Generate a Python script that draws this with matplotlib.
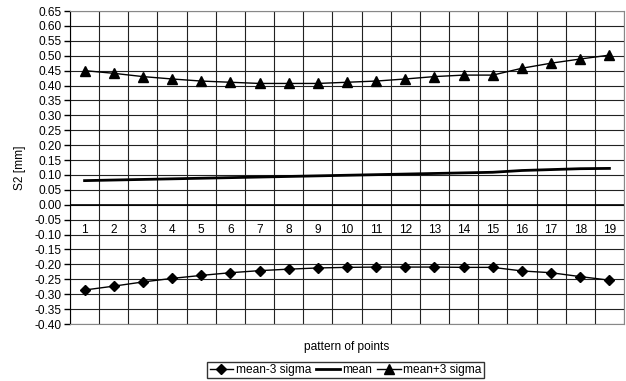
import matplotlib
matplotlib.use('Agg')
import matplotlib.pyplot as plt
import numpy as np

plt.rcParams['font.family'] = ['Liberation Sans', 'DejaVu Sans']

points = list(range(1, 20))
mean_minus = [-0.286, -0.273, -0.259, -0.247, -0.237, -0.228, -0.221, -0.216, -0.212, -0.210,
              -0.209, -0.209, -0.209, -0.210, -0.210, -0.222, -0.228, -0.241, -0.253]
mean_vals = [0.081, 0.083, 0.085, 0.087, 0.089, 0.091, 0.093, 0.095, 0.097, 0.099,
             0.101, 0.103, 0.105, 0.107, 0.109, 0.115, 0.118, 0.121, 0.122]
mean_plus = [0.450, 0.441, 0.430, 0.422, 0.415, 0.411, 0.407, 0.407, 0.407, 0.411,
             0.415, 0.422, 0.430, 0.435, 0.435, 0.458, 0.475, 0.489, 0.502]
yticks = np.round(np.arange(-0.40, 0.651, 0.05), 2)

fs = 8.6

fig = plt.figure(figsize=(6.26, 3.81), dpi=100)
ax = fig.add_axes([0.1118, 0.1496, 0.885, 0.8215])

x = np.arange(len(points))
ax.plot(x, mean_minus, color='black', lw=1, marker='D', ms=5.5, label='mean-3 sigma')
ax.plot(x, mean_vals, color='black', lw=2, label='mean')
ax.plot(x, mean_plus, color='black', lw=1, marker='^', ms=7, label='mean+3 sigma')

ax.set_xlim(-0.5, len(points) - 0.5)
ax.set_ylim(-0.40, 0.65)
ax.set_yticks(yticks)
ax.set_yticklabels([f'{v + 0.0:.2f}' for v in yticks])
ax.set_xticks(np.arange(-0.5, len(points), 1.0))
ax.set_xticklabels([])
ax.tick_params(axis='x', length=0)
ax.tick_params(axis='y', length=4, width=1, direction='out', labelsize=fs, pad=2)
ax.grid(True, color='#222222', lw=0.8)
ax.set_axisbelow(True)
ax.axhline(0, color='black', lw=1.2, zorder=1)
for s in ax.spines.values():
    s.set_color('#888888')
ax.spines['left'].set_color('black')

for xi, p in zip(x, points):
    ax.text(xi, -0.085, str(p), ha='center', va='center', fontsize=fs)

ax.set_ylabel('S2 [mm]', fontsize=fs, labelpad=6)
ax.set_xlabel('pattern of points', fontsize=fs, labelpad=9)

fig.legend(loc='center', bbox_to_anchor=(0.552, 0.029), ncol=3, fontsize=fs,
           frameon=True, fancybox=False, edgecolor='black', handlelength=2.0,
           handletextpad=0.2, columnspacing=0.4, borderpad=0.2, borderaxespad=0)

fig.savefig('out.png', dpi=100)
